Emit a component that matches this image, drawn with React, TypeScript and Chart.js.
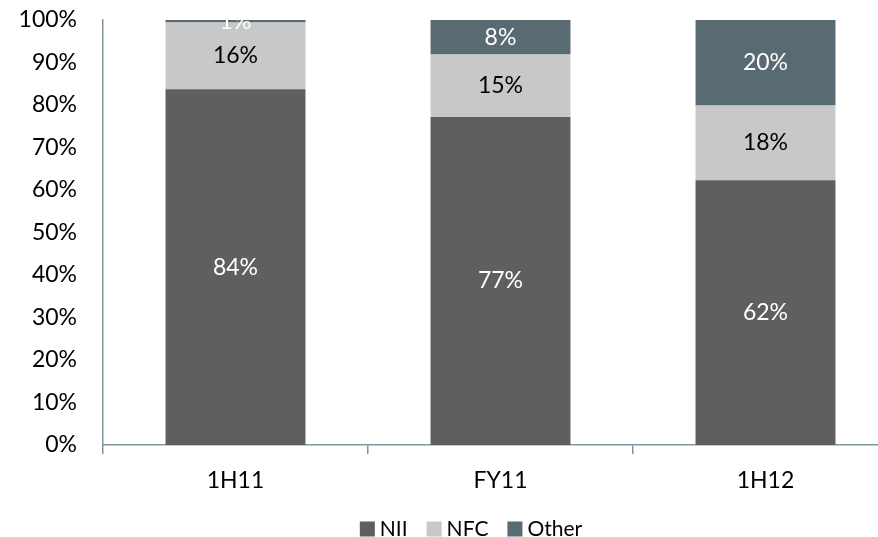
import React, { useEffect, useRef } from "react";
import { Chart, registerables } from "chart.js";

Chart.register(...registerables);

// Share of income by period (percent of total)
const categories = ["1H11", "FY11", "1H12"];
const niiShare = [83.7, 77.2, 62.3];
const nfcShare = [15.7, 14.7, 17.6];
const otherShare = [0.6, 8.1, 20.1];
const yTickValues = [0, 10, 20, 30, 40, 50, 60, 70, 80, 90, 100];

const FONT = "Lato, 'Open Sans', sans-serif";
const AXIS_COLOR = "#8296a0";

// Legend layout
const LEGEND_CENTER_X = 471;
const LEGEND_CENTER_Y = 529;
const LEGEND_BOX = 15;
const LEGEND_TEXT_GAP = 5;
const LEGEND_ITEM_GAP = 19;
const LEGEND_FONT_SIZE = 21;

const segmentLabels = {
  id: "segmentLabels",
  afterDatasetsDraw(chart: any) {
    const { ctx, chartArea } = chart;
    ctx.save();
    ctx.beginPath();
    ctx.rect(chartArea.left, chartArea.top, chartArea.right - chartArea.left, chartArea.bottom - chartArea.top);
    ctx.clip();
    ctx.font = `23px ${FONT}`;
    ctx.textAlign = "center";
    ctx.textBaseline = "middle";
    chart.data.datasets.forEach((ds: any, di: number) => {
      const meta = chart.getDatasetMeta(di);
      meta.data.forEach((bar: any, i: number) => {
        const v = ds.data[i];
        const cy = (bar.y + bar.base) / 2;
        ctx.fillStyle = ds.labelColor;
        ctx.fillText(`${Math.round(v)}%`, bar.x, cy);
      });
    });
    ctx.restore();
  },
};

const bottomLegend = {
  id: "bottomLegend",
  afterDraw(chart: any) {
    const { ctx } = chart;
    const datasets = chart.data.datasets;
    ctx.save();
    ctx.font = `${LEGEND_FONT_SIZE}px ${FONT}`;
    ctx.textBaseline = "middle";
    ctx.textAlign = "left";
    const widths = datasets.map((ds: any) => LEGEND_BOX + LEGEND_TEXT_GAP + ctx.measureText(ds.label).width);
    const total = widths.reduce((a: number, b: number) => a + b, 0) + LEGEND_ITEM_GAP * (datasets.length - 1);
    let x = LEGEND_CENTER_X - total / 2;
    datasets.forEach((ds: any, i: number) => {
      ctx.fillStyle = ds.backgroundColor;
      ctx.fillRect(x, LEGEND_CENTER_Y - LEGEND_BOX / 2, LEGEND_BOX, LEGEND_BOX);
      ctx.fillStyle = "#000000";
      ctx.fillText(ds.label, x + LEGEND_BOX + LEGEND_TEXT_GAP, LEGEND_CENTER_Y);
      x += widths[i] + LEGEND_ITEM_GAP;
    });
    ctx.restore();
  },
};

export default function App() {
  const canvasRef = useRef<HTMLCanvasElement | null>(null);

  useEffect(() => {
    const canvas = canvasRef.current;
    if (!canvas) return;
    const chart = new Chart(canvas, {
      type: "bar",
      data: {
        labels: categories,
        datasets: [
          { label: "NII", data: niiShare, backgroundColor: "#5f5f5f", labelColor: "#ffffff" } as any,
          { label: "NFC", data: nfcShare, backgroundColor: "#c8c8c8", labelColor: "#000000" } as any,
          { label: "Other", data: otherShare, backgroundColor: "#586b72", labelColor: "#ffffff" } as any,
        ],
      },
      options: {
        responsive: false,
        animation: false,
        devicePixelRatio: 1,
        layout: { padding: { top: 0, right: 0, bottom: 47, left: 0 } },
        datasets: { bar: { barPercentage: 0.528, categoryPercentage: 1, borderWidth: 0 } },
        scales: {
          x: {
            stacked: true,
            offset: true,
            grid: {
              display: true,
              offset: true,
              drawOnChartArea: false,
              drawTicks: true,
              tickLength: 9,
              color: AXIS_COLOR,
              lineWidth: 1.5,
            },
            border: { display: true, color: AXIS_COLOR, width: 1.5 },
            ticks: { color: "#000000", font: { family: FONT, size: 23 }, padding: 13, maxRotation: 0 },
            afterFit(scale: any) {
              scale.height = 58;
            },
          },
          y: {
            stacked: true,
            min: 0,
            max: 100,
            afterBuildTicks(scale: any) {
              scale.ticks = yTickValues.map((v) => ({ value: v }));
            },
            grid: { display: false, drawTicks: false },
            border: { display: true, color: AXIS_COLOR, width: 1.5 },
            ticks: {
              color: "#000000",
              font: { family: FONT, size: 23 },
              padding: 26,
              callback: (v: any) => `${v}%`,
            },
            afterFit(scale: any) {
              scale.width = 103;
              scale.paddingTop = 20;
              scale.paddingBottom = 0;
            },
          },
        },
        plugins: {
          legend: { display: false },
          tooltip: { enabled: false },
        },
      },
      plugins: [segmentLabels, bottomLegend],
    });
    return () => chart.destroy();
  }, []);

  return (
    <div style={{ position: "fixed", left: 0, top: 0, width: 878, height: 537, overflow: "hidden", background: "#ffffff" }}>
      <canvas ref={canvasRef} width={898} height={550} style={{ display: "block" }} />
    </div>
  );
}
